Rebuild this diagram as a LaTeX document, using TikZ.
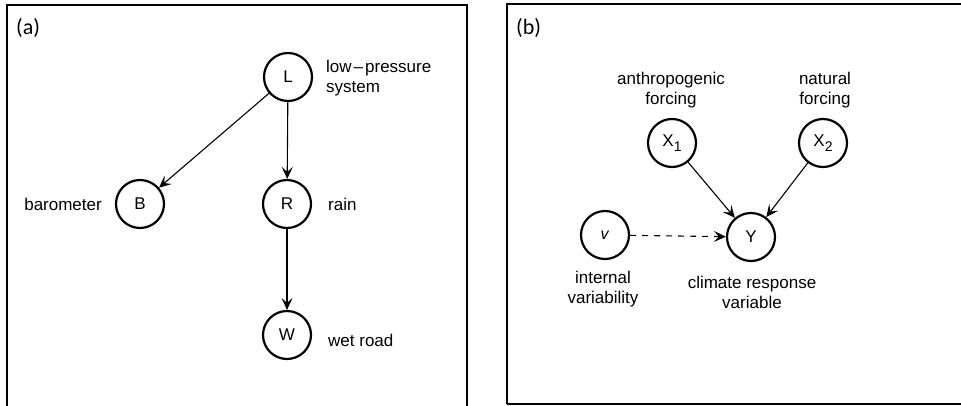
\documentclass[tikz,border=0pt]{standalone}
\usepackage{fontspec}
\setmainfont{Liberation Sans}
\newfontfamily\panelfont{Carlito}
\usetikzlibrary{arrows.meta}
\newcommand{\subidx}[1]{\raisebox{-5pt}{\fontsize{14}{14}\selectfont #1}}
\begin{document}
\begin{tikzpicture}[x=1pt,y=-1pt,
  var/.style={circle,draw,line width=2.2pt,minimum size=48pt,inner sep=0pt,font=\fontsize{17}{20}\selectfont},
  lbl/.style={inner sep=0pt,font=\fontsize{17}{20}\selectfont},
  panel/.style={inner sep=0pt,font=\panelfont\fontsize{22}{26}\selectfont},
  arr/.style={line width=1.1pt,-{Stealth[length=12pt,width=11pt,inset=5pt]}},
  frame/.style={line width=2.5pt}]
\useasboundingbox (0,0) rectangle (961,405);
% frames
\draw[frame] (7,410) -- (7,5) -- (467,5) -- (467,410);
\draw[frame] (507,404) -- (507,4) -- (965,4);
\draw[frame] (507,404) -- (965,404);
% panel labels
\node[panel,anchor=west] (pa) at (16,28) {(a)};
\node[panel,anchor=west] (pb) at (516,28) {(b)};
% panel (a)
\node[var] (L) at (288,77) {L};
\node[var] (B) at (140,204) {B};
\node[var] (R) at (287,204) {R};
\node[var] (W) at (287,335) {W};
\node[lbl,anchor=west,align=left] (tL) at (326,78) {low\kern2pt–\kern2pt pressure\\system};
\node[lbl,anchor=east] (tB) at (102,204) {barometer};
\node[lbl,anchor=west] (tR) at (328,204) {rain};
\node[lbl,anchor=west] (tW) at (328,340) {wet road};
\draw[arr] (L) -- (B);
\draw[arr] (L) -- (R);
\draw[arr] (R) -- (W);
% panel (b)
\node[var] (X1) at (672,143) {X\subidx{1}};
\node[var] (X2) at (823,143) {X\subidx{2}};
\node[var] (V) at (605,235) {\textit{\fontsize{16}{18}\selectfont v}};
\node[var] (Y) at (751,237) {Y};
\node[lbl,align=center] (tX1) at (671,90) {anthropogenic\\forcing};
\node[lbl,align=center] (tX2) at (825,90) {natural\\forcing};
\node[lbl,align=center] (tV) at (603,289) {internal\\variability};
\node[lbl,align=center] (tY) at (752,292) {climate response\\variable};
\draw[arr] (X1) -- (Y);
\draw[arr] (X2) -- (Y);
\draw[arr,dash pattern=on 6pt off 6pt] (V) -- (Y);
\end{tikzpicture}
\end{document}
